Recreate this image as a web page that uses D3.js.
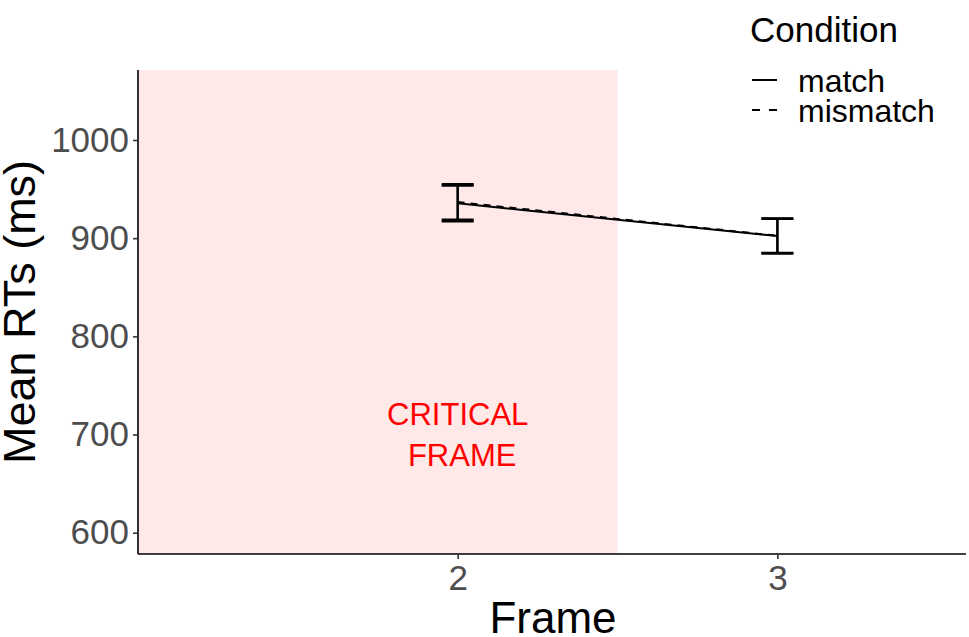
<!DOCTYPE html>
<html><head><meta charset="utf-8">
<script src="https://cdn.jsdelivr.net/npm/d3@7"></script>
<style>body{margin:0;background:#fff}svg{display:block}text{font-family:"Liberation Sans",Arial,sans-serif}</style>
</head><body><svg id="c" width="969" height="637"></svg>
<script>
const frames = [2, 3];
const conditions = ["match", "mismatch"];
const matchMeans = [935.5, 902.2];
const mismatchMeans = [936.8, 902.4];
const matchSE = [18.2, 17.6];
const mismatchSE = [18.0, 17.6];
const yTicks = [600, 700, 800, 900, 1000];
const xTicks = [2, 3];
const criticalEnd = 2.5;

const svg = d3.select("#c");
const x = d3.scaleLinear().domain([1.0, 3.59]).range([138, 966]);
const y = d3.scaleLinear().domain([578.3, 1071.3]).range([554, 70]);

// shaded critical region
svg.append("rect").attr("x", x(1.0)).attr("y", y(1071.3))
  .attr("width", x(criticalEnd) - x(1.0)).attr("height", y(578.3) - y(1071.3))
  .attr("fill", "#FFE8E8");

// annotation
const ann = svg.append("text").attr("fill", "#FF0000").attr("font-size", 31).attr("text-anchor", "middle");
ann.append("tspan").attr("x", x(2)).attr("y", 425).text("CRITICAL");
ann.append("tspan").attr("x", x(2) + 4.5).attr("y", 466).text("FRAME");

// axes
const xAxis = d3.axisBottom(x).tickValues(xTicks).tickSize(5).tickPadding(6).tickFormat(d3.format("d"));
const yAxis = d3.axisLeft(y).tickValues(yTicks).tickSize(5).tickPadding(4).tickFormat(d3.format("d"));
const gx = svg.append("g").attr("transform", `translate(0,${y(578.3)})`).call(xAxis);
const gy = svg.append("g").attr("transform", `translate(${x(1.0)},0)`).call(yAxis);
[gx, gy].forEach(g => {
  g.select(".domain").attr("stroke", "#000").attr("stroke-width", 1.6);
  g.selectAll(".tick line").attr("stroke", "#333").attr("stroke-width", 1.6);
  g.selectAll(".tick text").attr("fill", "#4D4D4D").attr("font-size", 35).attr("font-family", "Liberation Sans, Arial, sans-serif");
});
gx.select(".domain").attr("d", `M${x(1.0)},0H${x(3.59)}`);
gy.select(".domain").attr("d", `M0,${y(578.3)}V${y(1071.3)}`);

// axis titles
svg.append("text").attr("x", 553).attr("y", 633).attr("text-anchor", "middle").attr("font-size", 44).attr("fill", "#000").text("Frame");
svg.append("text").attr("transform", `translate(35,${(70 + 554) / 2}) rotate(-90)`).attr("text-anchor", "middle").attr("font-size", 45).attr("fill", "#000").text("Mean RTs (ms)");

// series
const series = [
  {name: "match", means: matchMeans, se: matchSE, dash: null},
  {name: "mismatch", means: mismatchMeans, se: mismatchSE, dash: "7,6"}
];
const line = d3.line().x(d => x(d[0])).y(d => y(d[1]));
series.forEach(s => {
  const pts = frames.map((f, i) => [f, s.means[i]]);
  svg.append("path").attr("d", line(pts)).attr("fill", "none").attr("stroke", "#000")
    .attr("stroke-width", 2).attr("stroke-dasharray", s.dash);
  frames.forEach((f, i) => {
    const g = svg.append("g").attr("stroke", "#000").attr("stroke-width", 2.2);
    const lo = s.means[i] - s.se[i], hi = s.means[i] + s.se[i];
    const w = 0.05;
    g.append("line").attr("x1", x(f)).attr("x2", x(f)).attr("y1", y(lo)).attr("y2", y(hi));
    g.append("line").attr("x1", x(f - w)).attr("x2", x(f + w)).attr("y1", y(lo)).attr("y2", y(lo)).attr("stroke-width", 2.6);
    g.append("line").attr("x1", x(f - w)).attr("x2", x(f + w)).attr("y1", y(hi)).attr("y2", y(hi)).attr("stroke-width", 2.6);
  });
});

// legend
svg.append("text").attr("x", 750).attr("y", 42).attr("font-size", 35).attr("fill", "#000").text("Condition");
series.forEach((s, i) => {
  const yy = 80 + i * 30;
  svg.append("line").attr("x1", 752).attr("x2", 777).attr("y1", yy).attr("y2", yy)
    .attr("stroke", "#000").attr("stroke-width", 2).attr("stroke-dasharray", s.dash ? "8,9" : null);
  svg.append("text").attr("x", 798).attr("y", yy + 12).attr("font-size", 32).attr("fill", "#000").text(s.name);
});
</script></body></html>
